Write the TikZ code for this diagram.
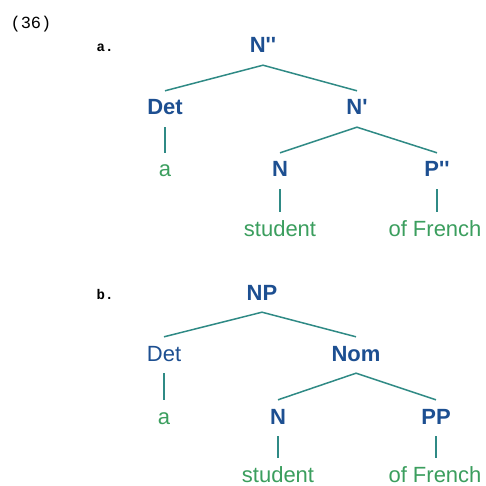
\documentclass[tikz,border=0pt]{standalone}
\usepackage{fontspec}
\setmainfont{Liberation Sans}
\newfontfamily\monofam{Liberation Mono}
\definecolor{catblue}{HTML}{1D4F91}
\definecolor{wordgreen}{HTML}{3B9E5E}
\definecolor{branch}{HTML}{2F8A85}
\newcommand{\pq}{\textquotesingle}
\tikzset{
  lab/.style={anchor=base, inner xsep=1pt, inner ysep=8pt, text height=16pt, text depth=4pt, font=\fontsize{22}{25}\selectfont},
  cat/.style={lab, text=catblue, font=\fontsize{22}{25}\selectfont\bfseries},
  catlight/.style={lab, text=catblue},
  word/.style={lab, text=wordgreen},
  edge/.style={draw=branch, line width=1.5pt},
  marker/.style={anchor=base, inner sep=0pt, font=\monofam\fontsize{14}{16}\selectfont\bfseries}
}
\begin{document}
\begin{tikzpicture}[x=1pt,y=-1pt]
\useasboundingbox (0,0) rectangle (486,486);
\node[anchor=base, inner sep=0pt, font=\monofam\fontsize{17}{19}\selectfont] (ex) at (31,29) {(36)};
% tree a
\node[marker] (la) at (105,52) {a.};
\node[cat] (a0) at (263,53) {N\pq\pq};
\node[cat] (a1) at (165,115) {Det};
\node[cat] (a2) at (357,115) {N\pq};
\node[word] (a3) at (165,177) {a};
\node[cat] (a4) at (280,177) {N};
\node[cat] (a5) at (437,177) {P\pq\pq};
\node[word] (a6) at (280,236) {student};
\node[word] (a7) at (435,236) {of French};
\draw[edge] (a1.north) -- (a0.south) -- (a2.north);
\draw[edge] (a1.south) -- (a1.south |- a3.north);
\draw[edge] (a4.north) -- (a2.south) -- (a5.north);
\draw[edge] (a4.south) -- (a4.south |- a6.north);
\draw[edge] (a5.south) -- (a5.south |- a7.north);
% tree b
\node[marker] (lb) at (105,299) {b.};
\node[cat] (b0) at (262,300) {NP};
\node[catlight] (b1) at (164,361) {Det};
\node[cat] (b2) at (356,361) {Nom};
\node[word] (b3) at (164,424) {a};
\node[cat] (b4) at (278,424) {N};
\node[cat] (b5) at (436,424) {PP};
\node[word] (b6) at (278,482) {student};
\node[word] (b7) at (435,482) {of French};
\draw[edge] (b1.north) -- (b0.south) -- (b2.north);
\draw[edge] (b1.south) -- (b1.south |- b3.north);
\draw[edge] (b4.north) -- (b2.south) -- (b5.north);
\draw[edge] (b4.south) -- (b4.south |- b6.north);
\draw[edge] (b5.south) -- (b5.south |- b7.north);
\end{tikzpicture}
\end{document}
